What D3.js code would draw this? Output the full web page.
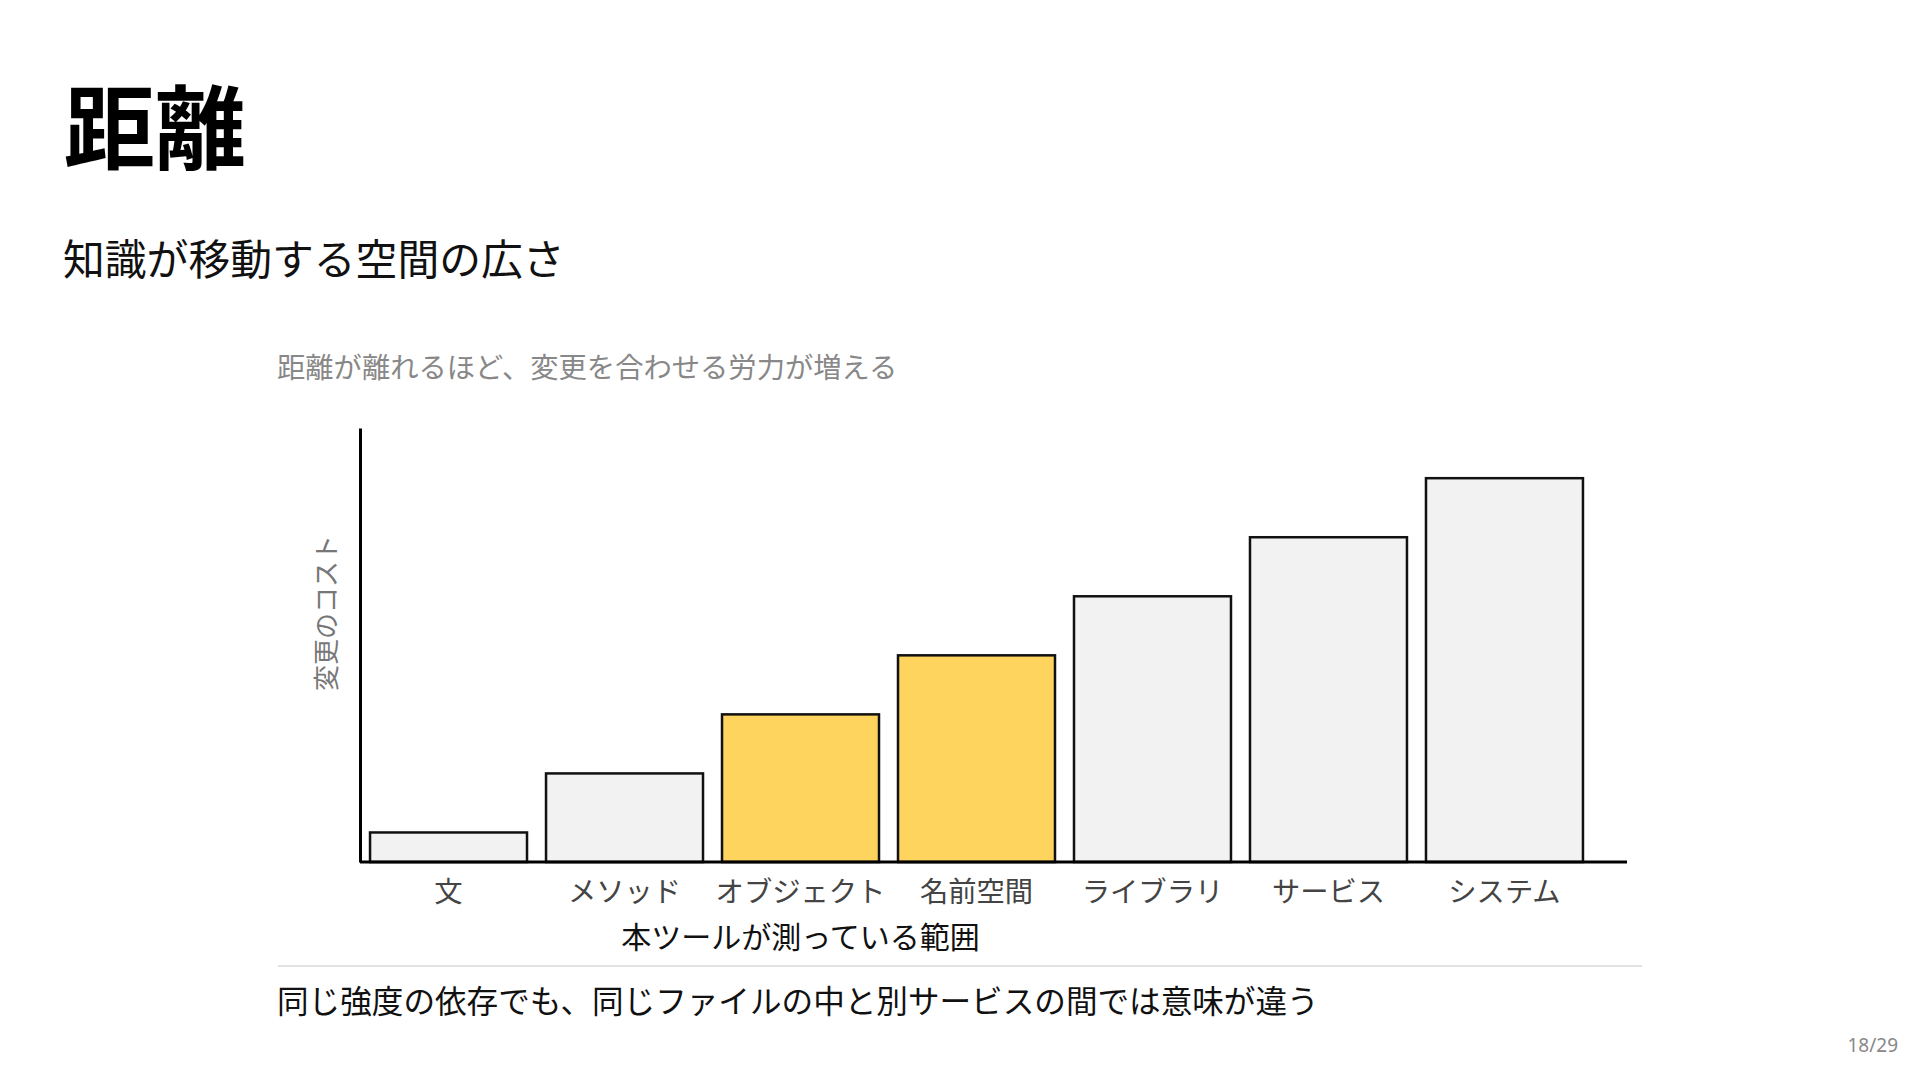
<!DOCTYPE html>
<html lang="ja">
<head>
<meta charset="utf-8">
<title>距離</title>
<script src="https://cdn.jsdelivr.net/npm/d3@7"></script>
<style>
  html, body {
    margin: 0;
    padding: 0;
    background: #ffffff;
  }
  body {
    width: 1920px;
    height: 1080px;
    overflow: hidden;
    font-family: "Noto Sans CJK JP", "Noto Sans", sans-serif;
  }
</style>
</head>
<body>
<div id="slide"></div>
<script>
// データ
const categories = ["文", "メソッド", "オブジェクト", "名前空間", "ライブラリ", "サービス", "システム"];
const costs = [1, 3, 5, 7, 9, 11, 13];
const measured = ["オブジェクト", "名前空間"];

const title = "距離";
const subtitle = "知識が移動する空間の広さ";
const caption = "距離が離れるほど、変更を合わせる労力が増える";
const yLabel = "変更のコスト";
const rangeLabel = "本ツールが測っている範囲";
const footnote = "同じ強度の依存でも、同じファイルの中と別サービスの間では意味が違う";
const pageLabel = "18/29";

const width = 1920;
const height = 1080;

const plotLeft = 360;
const plotRight = 1593;
const axisEnd = 1627;
const plotTop = 428;
const plotBottom = 862;

const svg = d3
  .select("#slide")
  .append("svg")
  .attr("width", width)
  .attr("height", height)
  .style("font-family", '"Noto Sans CJK JP", "Noto Sans", sans-serif');

// 見出し
svg
  .append("text")
  .attr("x", 64)
  .attr("y", 162)
  .attr("font-size", "91px")
  .attr("font-weight", "bold")
  .attr("fill", "#000")
  .text(title);

svg
  .append("text")
  .attr("x", 63)
  .attr("y", 275)
  .attr("font-size", "41.8px")
  .attr("fill", "#111")
  .text(subtitle);

svg
  .append("text")
  .attr("x", 277)
  .attr("y", 378)
  .attr("font-size", "28.3px")
  .attr("fill", "#888")
  .text(caption);

// スケール
const x = d3
  .scaleBand()
  .domain(categories)
  .range([plotLeft, plotRight])
  .paddingInner(0.108)
  .paddingOuter(0.057);

const y = d3
  .scaleLinear()
  .domain([0, 14.7])
  .range([plotBottom, plotTop]);

// 棒
svg
  .append("g")
  .attr("class", "bars")
  .selectAll("rect")
  .data(categories)
  .enter()
  .append("rect")
  .attr("x", (d) => x(d))
  .attr("y", (d, i) => y(costs[i]))
  .attr("width", x.bandwidth())
  .attr("height", (d, i) => y(0) - y(costs[i]))
  .attr("fill", (d) => (measured.includes(d) ? "#fed35e" : "#f2f2f2"))
  .attr("stroke", "#111")
  .attr("stroke-width", 2.5);

// 軸
const xAxis = d3.axisBottom(x).tickSize(0).tickSizeOuter(0);

const xAxisGroup = svg
  .append("g")
  .attr("transform", `translate(0, ${plotBottom})`)
  .call(xAxis);

xAxisGroup.select(".domain").remove();
xAxisGroup
  .selectAll("text")
  .attr("y", 40)
  .attr("dy", 0)
  .attr("font-size", "28.3px")
  .attr("font-family", '"Noto Sans CJK JP", "Noto Sans", sans-serif')
  .attr("fill", "#444");

svg
  .append("line")
  .attr("x1", plotLeft)
  .attr("x2", axisEnd)
  .attr("y1", plotBottom)
  .attr("y2", plotBottom)
  .attr("stroke", "#000")
  .attr("stroke-width", 3);

const yAxis = d3.axisLeft(y).ticks(0).tickSizeOuter(0);

svg
  .append("g")
  .attr("transform", `translate(${plotLeft}, 0)`)
  .call(yAxis)
  .select(".domain")
  .attr("stroke", "#000")
  .attr("stroke-width", 3);

svg
  .append("text")
  .attr("transform", `translate(336, 613) rotate(-90)`)
  .attr("text-anchor", "middle")
  .attr("font-size", "26px")
  .attr("fill", "#777")
  .text(yLabel);

// 本ツールの範囲
svg
  .append("text")
  .attr("x", x(measured[0]) + x.bandwidth() / 2)
  .attr("y", 948)
  .attr("text-anchor", "middle")
  .attr("font-size", "30px")
  .attr("fill", "#111")
  .text(rangeLabel);

// 区切り線と注記
svg
  .append("line")
  .attr("x1", 278)
  .attr("x2", 1642)
  .attr("y1", 966)
  .attr("y2", 966)
  .attr("stroke", "#e2e2e2")
  .attr("stroke-width", 2);

svg
  .append("text")
  .attr("x", 277)
  .attr("y", 1013)
  .attr("font-size", "31.6px")
  .attr("fill", "#111")
  .text(footnote);

svg
  .append("text")
  .attr("x", 1898)
  .attr("y", 1052)
  .attr("text-anchor", "end")
  .attr("font-size", "19px")
  .attr("font-family", '"Noto Sans", "DejaVu Sans", sans-serif')
  .attr("fill", "#888")
  .text(pageLabel);
</script>
</body>
</html>
